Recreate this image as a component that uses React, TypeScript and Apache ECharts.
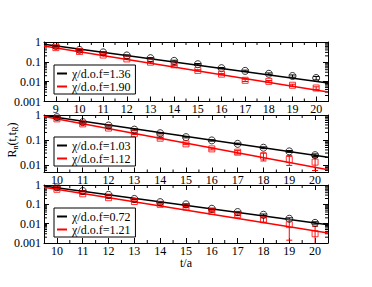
import React, { useEffect, useRef } from "react";
import * as echarts from "echarts";

const FONT = '"Liberation Serif", "DejaVu Serif", serif';

// time slices
const tTop = [9, 10, 11, 12, 13, 14, 15, 16, 17, 18, 19, 20];
const tLow = [10, 11, 12, 13, 14, 15, 16, 17, 18, 19, 20];

// panel 1
const p1Black = [0.63, 0.4, 0.3, 0.21, 0.153, 0.112, 0.076, 0.048, 0.035, 0.025, 0.0193, 0.0153];
const p1BlackErr = [0.04, 0.03, 0.02, 0.015, 0.01, 0.008, 0.006, 0.004, 0.003, 0.0025, 0.0025, 0.003];
const p1Red = [0.52, 0.33, 0.22, 0.14, 0.096, 0.071, 0.037, 0.024, 0.0117, 0.0104, 0.0066, 0.0048];
const p1RedErr = [0.03, 0.02, 0.015, 0.01, 0.007, 0.005, 0.003, 0.002, 0.0015, 0.001, 0.0008, 0.0007];
const p1FitX = [8.5, 20.5];
const p1FitBlack = [0.77, 0.0086];
const p1FitRed = [0.63, 0.003];
const p1Labels = ["χ/d.o.f=1.36", "χ/d.o.f=1.90"];

// panel 2
const p2Black = [0.82, 0.52, 0.38, 0.26, 0.187, 0.13, 0.096, 0.07, 0.049, 0.035, 0.0247];
const p2BlackErr = [0.05, 0.03, 0.02, 0.015, 0.01, 0.008, 0.006, 0.005, 0.004, 0.003, 0.003];
const p2Red = [0.7, 0.44, 0.3, 0.177, 0.118, 0.07, 0.044, 0.0325, 0.0225, 0.0166, 0.013];
const p2RedErr = [0.05, 0.03, 0.02, 0.012, 0.008, 0.005, 0.004, 0.005, 0.008, 0.007, 0.007];
const p2FitX = [9.5, 20.5];
const p2FitBlack = [0.95, 0.0205];
const p2FitRed = [0.87, 0.0064];
const p2Labels = ["χ/d.o.f=1.03", "χ/d.o.f=1.12"];

// panel 3
const p3Black = [0.76, 0.49, 0.31, 0.19, 0.13, 0.1, 0.059, 0.04, 0.029, 0.018, 0.011];
const p3BlackErr = [0.04, 0.03, 0.02, 0.012, 0.008, 0.006, 0.004, 0.003, 0.0025, 0.002, 0.0015];
const p3Red = [0.6, 0.35, 0.22, 0.14, 0.1, 0.072, 0.043, 0.029, 0.016, 0.0089, 0.003];
const p3RedErr = [0.04, 0.025, 0.015, 0.01, 0.007, 0.005, 0.004, 0.003, 0.004, 0.0075, 0.0043];
const p3FitX = [9.5, 20.5];
const p3FitBlack = [0.89, 0.0089];
const p3FitRed = [0.76, 0.0033];
const p3Labels = ["χ/d.o.f=0.72", "χ/d.o.f=1.21"];

// axis ranges
const xRanges = [
  [8.5, 20.5],
  [9.5, 20.5],
  [9.5, 20.5],
];
const yRanges = [
  [0.001, 1],
  [0.005, 1],
  [0.001, 1],
];

// minor tick values
const xMinorTicks = [8.5, 9.5, 10.5, 11.5, 12.5, 13.5, 14.5, 15.5, 16.5, 17.5, 18.5, 19.5, 20.5];
const yMinorTicks = [
  0.002, 0.003, 0.004, 0.005, 0.006, 0.007, 0.008, 0.009,
  0.02, 0.03, 0.04, 0.05, 0.06, 0.07, 0.08, 0.09,
  0.2, 0.3, 0.4, 0.5, 0.6, 0.7, 0.8, 0.9,
];

const xAxisTitle = "t/a";

const panels = [
  { t: tTop, black: p1Black, blackErr: p1BlackErr, red: p1Red, redErr: p1RedErr, fitX: p1FitX, fitBlack: p1FitBlack, fitRed: p1FitRed, labels: p1Labels },
  { t: tLow, black: p2Black, blackErr: p2BlackErr, red: p2Red, redErr: p2RedErr, fitX: p2FitX, fitBlack: p2FitBlack, fitRed: p2FitRed, labels: p2Labels },
  { t: tLow, black: p3Black, blackErr: p3BlackErr, red: p3Red, redErr: p3RedErr, fitX: p3FitX, fitBlack: p3FitBlack, fitRed: p3FitRed, labels: p3Labels },
];

const gridTops = [42, 115, 185];
const gridHeights = [59.5, 57.5, 58];
const legendTops = [65, 137, 208];
const GRID_LEFT = 44;
const GRID_WIDTH = 284;

function fmtX(v: number) {
  return Math.abs(v - Math.round(v)) < 1e-9 ? String(Math.round(v)) : "";
}
function fmtY(v: number) {
  const l = Math.log10(v);
  if (Math.abs(l - Math.round(l)) > 1e-6) return "";
  return String(Number(v.toPrecision(6)));
}

function errRender(color: string) {
  return (params: any, api: any) => {
    const x = api.value(0);
    const v = api.value(1);
    const e = api.value(2);
    const hi = api.coord([x, v + e]);
    const lo = api.coord([x, Math.max(v - e, 1e-7)]);
    const cap = 3;
    const style = { stroke: color, lineWidth: 1 };
    return {
      type: "group",
      children: [
        { type: "line", shape: { x1: hi[0], y1: hi[1], x2: lo[0], y2: lo[1] }, style },
        { type: "line", shape: { x1: hi[0] - cap, y1: hi[1], x2: hi[0] + cap, y2: hi[1] }, style },
        { type: "line", shape: { x1: lo[0] - cap, y1: lo[1], x2: lo[0] + cap, y2: lo[1] }, style },
      ],
    };
  };
}

function tickRender(params: any, api: any) {
  const cs = params.coordSys;
  const kind = api.value(2);
  const p = api.coord([api.value(0), api.value(1)]);
  const len = 3;
  const style = { stroke: "#000", lineWidth: 1 };
  if (kind === 0) {
    return {
      type: "group",
      children: [
        { type: "line", shape: { x1: cs.x, y1: p[1], x2: cs.x + len, y2: p[1] }, style },
        { type: "line", shape: { x1: cs.x + cs.width - len, y1: p[1], x2: cs.x + cs.width, y2: p[1] }, style },
      ],
    };
  }
  return {
    type: "group",
    children: [
      { type: "line", shape: { x1: p[0], y1: cs.y + cs.height, x2: p[0], y2: cs.y + cs.height - len }, style },
      { type: "line", shape: { x1: p[0], y1: cs.y, x2: p[0], y2: cs.y + len }, style },
    ],
  };
}

function buildOption() {
  const grid: any[] = [];
  const xAxis: any[] = [];
  const yAxis: any[] = [];
  const series: any[] = [];
  const legend: any[] = [];

  panels.forEach((p, i) => {
    grid.push({ left: GRID_LEFT, width: GRID_WIDTH, top: gridTops[i], height: gridHeights[i] });
    const [xmin, xmax] = xRanges[i];
    const [ymin, ymax] = yRanges[i];
    const axisLine = { show: true, lineStyle: { color: "#000", width: 1 } };
    const axisTick = { show: true, inside: true, length: 5, lineStyle: { color: "#000", width: 1 } };
    const baseX = {
      gridIndex: i,
      type: "value",
      min: xmin,
      max: xmax,
      splitNumber: 12,
      minInterval: 1,
      maxInterval: 1,
      axisLine,
      axisTick,
      splitLine: { show: false },
    };
    xAxis.push({
      ...baseX,
      position: "bottom",
      axisLabel: { show: true, fontFamily: FONT, fontSize: 12, lineHeight: 11, color: "#000", margin: 2, formatter: fmtX },
      ...(i === 2
        ? {
            name: xAxisTitle,
            nameLocation: "middle",
            nameGap: 14,
            nameTextStyle: { fontFamily: FONT, fontSize: 12, color: "#000" },
          }
        : {}),
    });
    xAxis.push({ ...baseX, position: "top", axisLabel: { show: false } });

    const baseY = {
      gridIndex: i,
      type: "log",
      logBase: 10,
      min: ymin,
      max: ymax,
      axisLine,
      axisTick,
      splitLine: { show: false },
    };
    yAxis.push({
      ...baseY,
      position: "left",
      axisLabel: { show: true, fontFamily: FONT, fontSize: 12, lineHeight: 11, color: "#000", margin: 3, formatter: fmtY },
    });
    yAxis.push({ ...baseY, position: "right", axisLabel: { show: false } });

    const xi = 2 * i;
    const yi = 2 * i;

    const tickData: number[][] = [];
    yMinorTicks.filter((v) => v > ymin && v < ymax).forEach((v) => tickData.push([xmin, v, 0]));
    xMinorTicks.filter((v) => v > xmin && v < xmax).forEach((v) => tickData.push([v, 0.1, 1]));
    series.push({
      type: "custom",
      xAxisIndex: xi,
      yAxisIndex: yi,
      data: tickData,
      renderItem: tickRender,
      silent: true,
      z: 1,
    });

    series.push({
      name: p.labels[0],
      type: "line",
      xAxisIndex: xi,
      yAxisIndex: yi,
      data: p.fitX.map((x, k) => [x, p.fitBlack[k]]),
      symbol: "none",
      color: "#000",
      lineStyle: { color: "#000", width: 1.5 },
      z: 2,
    });
    series.push({
      name: p.labels[1],
      type: "line",
      xAxisIndex: xi,
      yAxisIndex: yi,
      data: p.fitX.map((x, k) => [x, p.fitRed[k]]),
      symbol: "none",
      color: "#ff0000",
      lineStyle: { color: "#ff0000", width: 1.5 },
      z: 2,
    });

    series.push({
      type: "custom",
      xAxisIndex: xi,
      yAxisIndex: yi,
      data: p.t.map((x, k) => [x, p.black[k], p.blackErr[k]]),
      renderItem: errRender("#000"),
      clip: true,
      z: 3,
    });
    series.push({
      type: "custom",
      xAxisIndex: xi,
      yAxisIndex: yi,
      data: p.t.map((x, k) => [x, p.red[k], p.redErr[k]]),
      renderItem: errRender("#ff0000"),
      clip: true,
      z: 3,
    });

    series.push({
      type: "scatter",
      xAxisIndex: xi,
      yAxisIndex: yi,
      data: p.t.map((x, k) => [x, p.black[k]]),
      symbol: "circle",
      symbolSize: 7,
      itemStyle: { color: "rgba(0,0,0,0)", borderColor: "#000", borderWidth: 1 },
      z: 4,
    });
    series.push({
      type: "scatter",
      xAxisIndex: xi,
      yAxisIndex: yi,
      data: p.t.map((x, k) => [x, p.red[k]]),
      symbol: "rect",
      symbolSize: 6,
      itemStyle: { color: "rgba(0,0,0,0)", borderColor: "#ff0000", borderWidth: 1 },
      z: 4,
    });

    legend.push({
      data: p.labels,
      orient: "vertical",
      left: 54,
      top: legendTops[i],
      icon: "rect",
      itemWidth: 10,
      itemHeight: 2,
      itemGap: 0,
      itemTextGap: 8,
      padding: [2, 5, 1, 3],
      borderColor: "#000",
      borderWidth: 1,
      backgroundColor: "#fff",
      selectedMode: false,
      textStyle: { fontFamily: FONT, fontSize: 12, color: "#000", lineHeight: 13 },
      z: 10,
    });
  });

  return {
    animation: false,
    backgroundColor: "#fff",
    textStyle: { fontFamily: FONT },
    grid,
    xAxis,
    yAxis,
    series,
    legend,
    graphic: [
      {
        type: "text",
        x: 12,
        y: 140,
        rotation: Math.PI / 2,
        style: {
          text: "{a|R}{s|n}{a|(t,t}{s|R}{a|)}",
          align: "center",
          verticalAlign: "middle",
          fill: "#000",
          rich: {
            a: { fontFamily: FONT, fontSize: 12, lineHeight: 14, verticalAlign: "middle", fill: "#000" },
            s: { fontFamily: FONT, fontSize: 8, lineHeight: 8, verticalAlign: "bottom", padding: [6, 0, 0, 0], fill: "#000" },
          },
        },
      },
    ],
  };
}

export default function App() {
  const ref = useRef<HTMLDivElement>(null);
  useEffect(() => {
    if (!ref.current) return;
    const chart = echarts.init(ref.current, undefined, { renderer: "svg" });
    chart.setOption(buildOption() as any);
    return () => chart.dispose();
  }, []);
  return (
    <div
      ref={ref}
      style={{ position: "absolute", left: 0, top: 0, width: 372, height: 287, background: "#fff" }}
    />
  );
}
